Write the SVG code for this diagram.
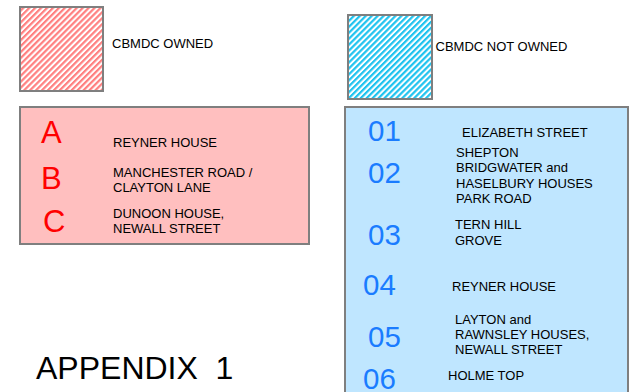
<svg xmlns="http://www.w3.org/2000/svg" width="630" height="392" viewBox="0 0 630 392">
<defs>
<pattern id="hatchRed" patternUnits="userSpaceOnUse" width="4.2" height="4.2" patternTransform="rotate(45)">
<rect width="4.2" height="4.2" fill="#ffffff"/>
<rect width="2.2" height="4.2" fill="#ff8080"/>
</pattern>
<pattern id="hatchBlue" patternUnits="userSpaceOnUse" width="4.2" height="4.2" patternTransform="rotate(45)">
<rect width="4.2" height="4.2" fill="#ffffff"/>
<rect width="2.2" height="4.2" fill="#1ec3ef"/>
</pattern>
</defs>
<style>
.frame{stroke:#7f7f7f;stroke-width:2}
.lbl{font-family:"Liberation Sans",Arial,sans-serif;font-size:13px;fill:#000}
.let{font-family:"Liberation Sans",Arial,sans-serif;font-size:31px;fill:#ff0000}
.num{font-family:"Liberation Sans",Arial,sans-serif;font-size:29.5px;fill:#1a7cff}
.title{font-family:"Liberation Sans",Arial,sans-serif;font-size:32px;fill:#000}
</style>
<g id="legend-owned">
<rect class="frame" x="20" y="7" width="83" height="84" fill="url(#hatchRed)"/>
<text class="lbl" x="112" y="48">CBMDC OWNED</text>
</g>
<g id="legend-not-owned">
<rect class="frame" x="348" y="15" width="84" height="84" fill="url(#hatchBlue)"/>
<text class="lbl" x="435.5" y="50.5">CBMDC NOT OWNED</text>
</g>
<g id="owned-list">
<rect class="frame" x="20" y="107" width="289" height="137" fill="#ffbfbf"/>
<text class="let" x="41" y="143">A</text>
<text class="let" x="41" y="189">B</text>
<text class="let" x="43" y="232">C</text>
<text class="lbl" x="113" y="147">REYNER HOUSE</text>
<text class="lbl" x="113" y="177">MANCHESTER ROAD /</text>
<text class="lbl" x="113" y="192">CLAYTON LANE</text>
<text class="lbl" x="113" y="218">DUNOON HOUSE,</text>
<text class="lbl" x="113" y="233">NEWALL STREET</text>
</g>
<g id="not-owned-list">
<rect class="frame" x="345" y="107" width="283" height="300" fill="#bfe6ff"/>
<text class="num" x="368" y="141">01</text>
<text class="num" x="368" y="183">02</text>
<text class="num" x="368" y="245">03</text>
<text class="num" x="363" y="295">04</text>
<text class="num" x="368" y="346.5">05</text>
<text class="num" x="363" y="388.5">06</text>
<text class="lbl" x="462" y="137">ELIZABETH STREET</text>
<text class="lbl" x="456" y="157">SHEPTON</text>
<text class="lbl" x="456" y="172">BRIDGWATER and</text>
<text class="lbl" x="456" y="187.5">HASELBURY HOUSES</text>
<text class="lbl" x="456" y="202.5">PARK ROAD</text>
<text class="lbl" x="455" y="228.5">TERN HILL</text>
<text class="lbl" x="455" y="244.5">GROVE</text>
<text class="lbl" x="452" y="291">REYNER HOUSE</text>
<text class="lbl" x="455" y="323.5">LAYTON and</text>
<text class="lbl" x="455" y="339">RAWNSLEY HOUSES,</text>
<text class="lbl" x="455" y="354">NEWALL STREET</text>
<text class="lbl" x="448" y="380">HOLME TOP</text>
</g>
<text class="title" x="36" y="379" xml:space="preserve">APPENDIX  1</text>
<g id="connectors"/>
</svg>
